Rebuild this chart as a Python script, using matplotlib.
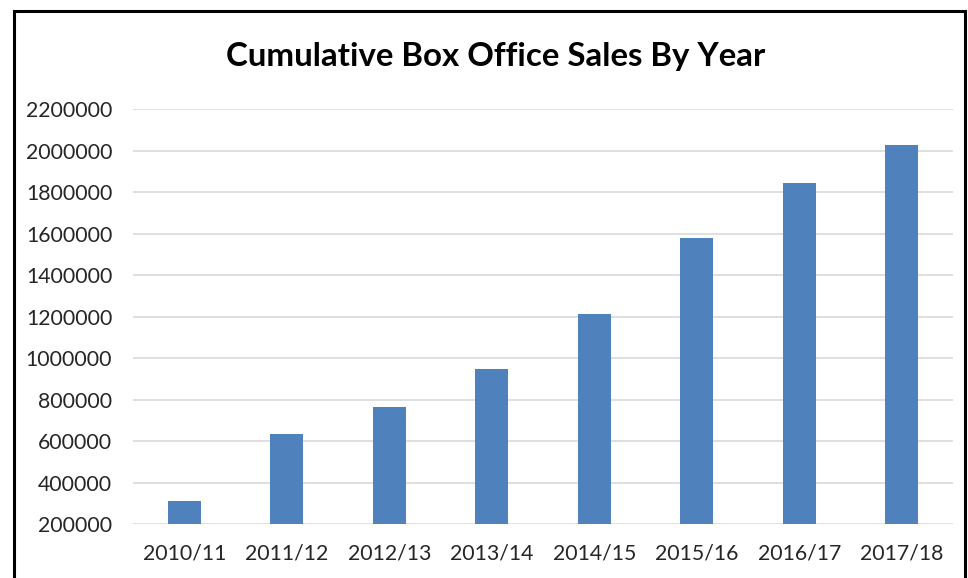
import matplotlib
matplotlib.use("Agg")
import matplotlib.pyplot as plt
from matplotlib.patches import Rectangle

# data
years = ["2010/11", "2011/12", "2012/13", "2013/14", "2014/15", "2015/16", "2016/17", "2017/18"]
sales = [311000, 632000, 765000, 947000, 1210000, 1578000, 1842000, 2028000]
yticks = list(range(200000, 2200001, 200000))

plt.rcParams['font.family'] = ['Lato', 'DejaVu Sans']

fig = plt.figure(figsize=(9.68, 5.78), dpi=100)
ax = fig.add_axes([0.1374, 0.0934, 0.8471, 0.718])

base = yticks[0]
ax.bar(range(len(years)), [s - base for s in sales], bottom=base, width=0.32,
       color="#4F81BD", zorder=3)

ax.set_xlim(-0.5, len(years) - 0.5)
ax.set_ylim(yticks[0], yticks[-1])
ax.set_yticks(yticks)
ax.set_yticklabels([str(t) for t in yticks])
ax.set_xticks(range(len(years)))
ax.set_xticklabels(years)
ax.tick_params(length=0, labelsize=15.3, colors="#262626")
ax.tick_params(axis="x", pad=14)
ax.tick_params(axis="y", pad=15)
ax.grid(axis="y", color="#D9D9D9", lw=1.2, zorder=0)
for s in ax.spines.values():
    s.set_visible(False)

fig.text(0.512, 0.903, "Cumulative Box Office Sales By Year", ha="center", va="center",
         fontsize=23.8, fontweight="bold", color="black")

# outer chart border (bottom edge falls outside the picture)
fig.patches.append(Rectangle((0.014, -0.05), 0.983, 1.031, transform=fig.transFigure,
                             fill=False, edgecolor="black", lw=2.2))

fig.savefig("out.png", dpi=100)
